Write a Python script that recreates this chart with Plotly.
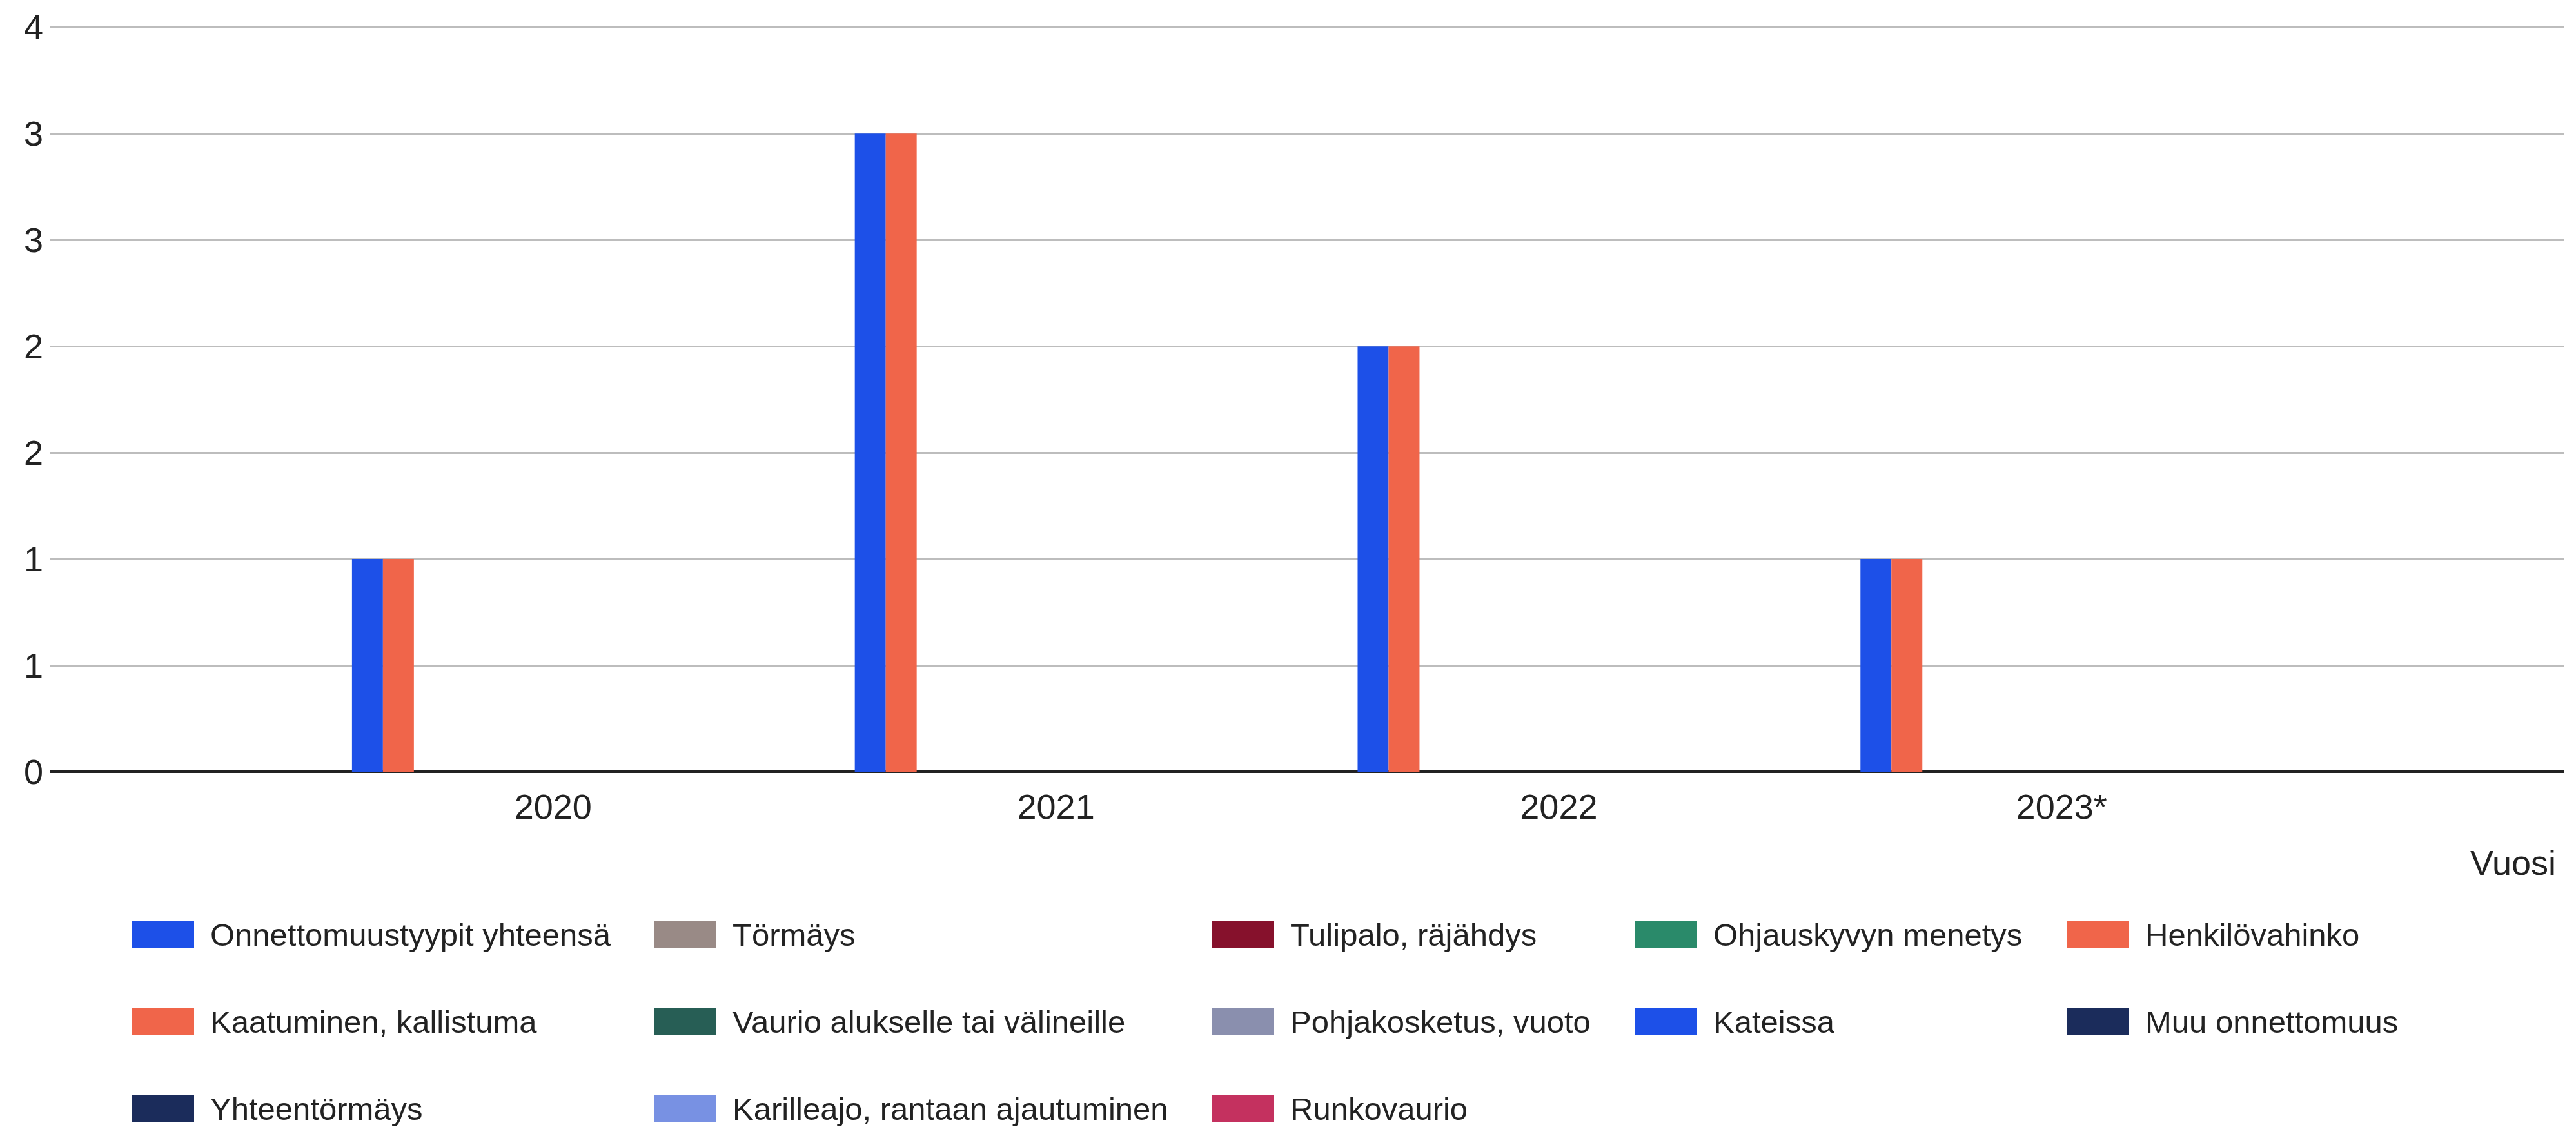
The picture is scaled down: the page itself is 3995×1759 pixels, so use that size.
import plotly.graph_objects as go

# ---------------- data ----------------
years = ["2020", "2021", "2022", "2023*"]

# series in bar (slot) order
series_names = [
    "Onnettomuustyypit yhteensä",
    "Kaatuminen, kallistuma",
    "Törmäys",
    "Tulipalo, räjähdys",
    "Ohjauskyvyn menetys",
    "Henkilövahinko",
    "Vaurio alukselle tai välineille",
    "Pohjakosketus, vuoto",
    "Kateissa",
    "Muu onnettomuus",
    "Yhteentörmäys",
    "Karilleajo, rantaan ajautuminen",
    "Runkovaurio",
]
values_total = [1, 3, 2, 1]
values_kaatuminen = [1, 3, 2, 1]
values_zero = [0, 0, 0, 0]
series_values = {
    "Onnettomuustyypit yhteensä": values_total,
    "Kaatuminen, kallistuma": values_kaatuminen,
}
series_colors = {
    "Onnettomuustyypit yhteensä": "#1d50e8",
    "Törmäys": "#998a86",
    "Tulipalo, räjähdys": "#86112c",
    "Ohjauskyvyn menetys": "#2a8a6a",
    "Henkilövahinko": "#f0654a",
    "Kaatuminen, kallistuma": "#f0654a",
    "Vaurio alukselle tai välineille": "#275e55",
    "Pohjakosketus, vuoto": "#8a8fae",
    "Kateissa": "#1d50e8",
    "Muu onnettomuus": "#1b2c5b",
    "Yhteentörmäys": "#1b2c5b",
    "Karilleajo, rantaan ajautuminen": "#7891e3",
    "Runkovaurio": "#c4315f",
}
legend_rows = [
    ["Onnettomuustyypit yhteensä", "Törmäys", "Tulipalo, räjähdys", "Ohjauskyvyn menetys", "Henkilövahinko"],
    ["Kaatuminen, kallistuma", "Vaurio alukselle tai välineille", "Pohjakosketus, vuoto", "Kateissa", "Muu onnettomuus"],
    ["Yhteentörmäys", "Karilleajo, rantaan ajautuminen", "Runkovaurio"],
]
y_tickvals = [0, 0.5, 1, 1.5, 2, 2.5, 3, 3.5]
y_ticktext = ["0", "1", "1", "2", "2", "3", "3", "4"]
x_title = "Vuosi"

# ---------------- layout geometry (pixels) ----------------
W, H = 3995, 1759
L, R, T, B = 70, 26, 31, 570
PW, PH = W - L - R, H - T - B
FONT = "Liberation Sans, Arial, sans-serif"

def fx(px):
    return (px - L) / PW

def fy(py):
    return (H - B - py) / PH

fig = go.Figure()
for name in series_names:
    fig.add_trace(go.Bar(
        x=years,
        y=series_values.get(name, values_zero),
        name=name,
        marker=dict(color=series_colors[name], line=dict(width=0)),
        showlegend=False,
    ))

# custom legend (wide swatches like the original)
col_left = [196, 1006, 1871, 2527, 3197]
row_center = [1442, 1577, 1712]
sw_w, sw_h, txt_off = 97, 42, 120
shapes = []
annotations = []
for r, row in enumerate(legend_rows):
    for c, name in enumerate(row):
        x0 = col_left[c]
        yc = row_center[r]
        shapes.append(dict(
            type="rect", xref="paper", yref="paper",
            x0=fx(x0), x1=fx(x0 + sw_w),
            y0=fy(yc + sw_h / 2), y1=fy(yc - sw_h / 2),
            fillcolor=series_colors[name], line=dict(width=0), layer="above",
        ))
        annotations.append(dict(
            text=name, xref="paper", yref="paper",
            x=fx(x0 + txt_off), y=fy(yc), xanchor="left", yanchor="middle",
            showarrow=False, font=dict(family=FONT, size=49, color="#222222"),
        ))

annotations.append(dict(
    text=x_title, xref="paper", yref="paper",
    x=fx(3958), y=fy(1330), xanchor="right", yanchor="middle",
    showarrow=False, font=dict(family=FONT, size=54, color="#222222"),
))

fig.update_layout(
    width=W, height=H,
    margin=dict(l=L, r=R, t=T, b=B, autoexpand=False),
    paper_bgcolor="white", plot_bgcolor="white",
    barmode="group", bargap=0.2, bargroupgap=0,
    font=dict(family=FONT, size=54, color="#222222"),
    shapes=shapes, annotations=annotations,
    xaxis=dict(
        type="category", categoryorder="array", categoryarray=years,
        range=[-1, 4], showgrid=False, zeroline=False, showline=False,
        ticks="", ticklabelstandoff=18,
        tickfont=dict(family=FONT, size=54, color="#222222"),
    ),
    yaxis=dict(
        range=[0, 3.51], tickmode="array", tickvals=y_tickvals, ticktext=y_ticktext,
        showgrid=True, gridcolor="#bdbdbd", gridwidth=3,
        zeroline=True, zerolinecolor="#222222", zerolinewidth=4,
        showline=False, ticks="", ticklabelstandoff=10,
        ticklabeloverflow="allow",
        tickfont=dict(family=FONT, size=54, color="#222222"),
    ),
)

fig.write_html("out.html")
